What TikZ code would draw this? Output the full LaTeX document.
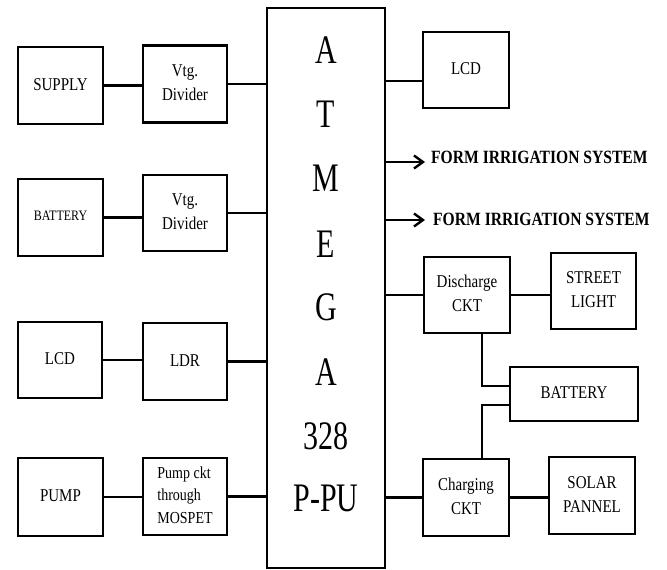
\documentclass[tikz,border=0pt]{standalone}
\usepackage{fontspec}
\setmainfont{Liberation Serif}
\usetikzlibrary{arrows.meta,positioning,calc}
\tikzset{
  blk/.style={draw, line width=2.6pt, minimum width=85pt, minimum height=77pt,
    align=center, inner sep=1pt, font=\fontsize{15}{20}\selectfont},
  wire/.style={line width=2.6pt},
  chip/.style={font=\fontsize{30}{30}\selectfont, inner sep=0pt},
}
\newcommand{\stretchy}[1]{\scalebox{1}[1.35]{#1}}
\newcommand{\txt}[1]{\scalebox{1}[1.2]{\begin{tabular}{@{}c@{}}#1\end{tabular}}}

\begin{document}
\begin{tikzpicture}[x=1pt,y=-1pt,
  flow/.style={wire,-{Straight Barb[length=9pt,width=13pt,line width=2.4pt]}},
  tag/.style={font=\fontsize{15.6}{15.6}\selectfont\bfseries, inner sep=0pt, anchor=west}]
\useasboundingbox (0,0) rectangle (667,570);

% ---- controller ----
\node[blk, minimum width=118pt, minimum height=560pt] (mcu) at (326,288) {};
\foreach \ch/\yy [count=\i] in {A/50,T/114,M/178,E/244,G/307,A/372,328/436,P-PU/498}
  \node[chip] (c\i) at (326,\yy) {\stretchy{\ch}};

% ---- left side ----
\node[blk] (sup)  at (60.5,85.5) {\txt{SUPPLY}};
\node[blk, minimum width=84pt] (vd1) at (185,84) {\txt{Vtg.\\Divider}};
\node[blk, font=\fontsize{12}{14}\selectfont] (batl) at (60.5,217.5) {\txt{BATTERY}};
\node[blk, minimum width=84pt, minimum height=76pt] (vd2) at (185,213) {\txt{Vtg.\\Divider}};
\node[blk, minimum width=84pt, minimum height=76pt] (lcdl) at (60,360) {\txt{LCD}};
\node[blk, minimum width=84pt] (ldr) at (185,361.5) {\txt{LDR}};
\node[blk, minimum height=78pt] (pump) at (60.5,497) {\txt{PUMP}};
\node[blk, minimum width=84pt, font=\fontsize{14}{18.5}\selectfont] (pckt) at (185,496.5)
  {\scalebox{1}[1.2]{\begin{tabular}{@{}l@{}}Pump ckt\\through\\MOSPET\end{tabular}}};

\draw[wire] (sup.east)  -- (sup.east -| vd1.west);
\draw[wire] (vd1.east)  -- (vd1.east -| mcu.west);
\draw[wire] (batl.east) -- (batl.east -| vd2.west);
\draw[wire] (vd2.east)  -- (vd2.east -| mcu.west);
\draw[wire] (lcdl.east) -- (lcdl.east -| ldr.west);
\draw[wire] (ldr.east)  -- (ldr.east -| mcu.west);
\draw[wire] (pump.east) -- (pump.east -| pckt.west);
\draw[wire] (pckt.east) -- (pckt.east -| mcu.west);

% ---- right side ----
\node[blk, minimum width=86pt, minimum height=76pt] (lcdr) at (466,70) {\txt{LCD}};
\node[tag] (irr1) at (431,157.5) {\scalebox{1}[1.2]{FORM IRRIGATION SYSTEM}};
\node[tag] (irr2) at (433,219) {\scalebox{1}[1.2]{FORM IRRIGATION SYSTEM}};
\node[blk, minimum width=86pt, minimum height=76pt] (dis) at (467,295) {\txt{Discharge\\CKT}};
\node[blk, minimum height=76pt] (street) at (593.5,291) {\txt{STREET\\LIGHT}};
\node[blk, minimum width=128pt, minimum height=54pt] (batr) at (574,394) {\txt{BATTERY}};
\node[blk, minimum width=86pt] (chg) at (466,497.5) {\txt{Charging\\CKT}};
\node[blk, minimum width=86pt] (sol) at (592,495.5) {\txt{SOLAR\\PANNEL}};

\draw[wire] ([yshift=-11pt]lcdr.west) -- ([yshift=-11pt]lcdr.west -| mcu.east);
\coordinate (a1) at ([shift={(-6pt,-4.5pt)}]irr1.west);
\coordinate (a2) at ([shift={(-8pt,-1pt)}]irr2.west);
\draw[flow] (a1 -| mcu.east) -- (a1);
\draw[flow] (a2 -| mcu.east) -- (a2);
\draw[wire] (dis.west) -- (dis.west -| mcu.east);
\draw[wire] (dis.east) -- (dis.east -| street.west);
\draw[wire] ([xshift=15pt]dis.south) |- ([yshift=8pt]batr.west);
\draw[wire] ([yshift=-11pt]batr.west) -| ([xshift=16pt]chg.north);
\draw[wire] (chg.west) -- (chg.west -| mcu.east);
\draw[wire] (chg.east) -- (chg.east -| sol.west);

\end{tikzpicture}
\end{document}
